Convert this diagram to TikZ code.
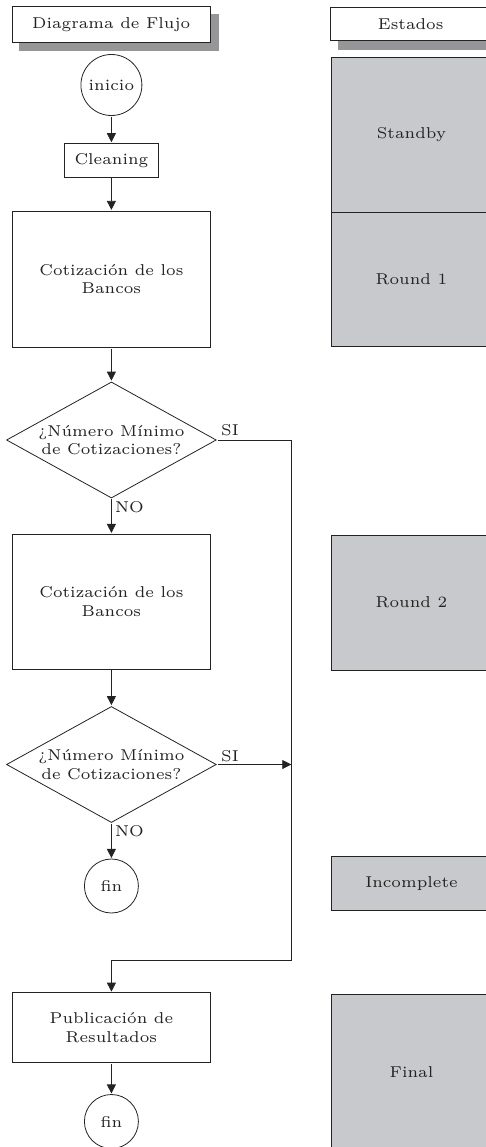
\documentclass[tikz,border=0pt]{standalone}
\usetikzlibrary{shapes.geometric,arrows.meta,backgrounds}
\definecolor{stategray}{RGB}{200,201,204}
\definecolor{shadowgray}{RGB}{150,150,152}
\definecolor{linec}{RGB}{35,35,35}
\newcommand{\kscale}{2.62}
\begin{document}
\begin{tikzpicture}[x=1pt,y=-1pt,
  lbl/.style={font=\fontsize{6}{7.05}\selectfont, scale=\kscale, inner sep=0pt, align=center, text=linec},
  sz/.style 2 args={minimum width={#1pt/\kscale}, minimum height={#2pt/\kscale}},
  box/.style={lbl, rectangle, draw=linec, line width=0.8pt, fill=white},
  st/.style={lbl, rectangle, draw=linec, line width=0.8pt, fill=stategray},
  term/.style={lbl, circle, draw=linec, line width=0.8pt, fill=white},
  dec/.style={lbl, diamond, aspect=1.8036, draw=linec, line width=0.8pt, fill=white},
  conn/.style={draw=linec, line width=0.8pt},
  arr/.style={conn, -{Triangle[length=9pt,width=9pt]}}]
\useasboundingbox (0,0) rectangle (486,1147);
% headers
\node[box, sz={198.4}{35.6}] (h1) at (111.2,24.5) {Diagrama de Flujo};
\node[box, sz={160}{33.4}] (h2) at (410.7,24) {Estados};
\begin{scope}[on background layer]
\fill[shadowgray] ([shift={(8,8)}]h1.north west) rectangle ([shift={(8,8)}]h1.south east);
\fill[shadowgray] ([shift={(8,8)}]h2.north west) rectangle ([shift={(8,8)}]h2.south east);
\end{scope}
% states
\node[st, sz={161}{154.6}] (standby) at (411.5,135) {Standby};
\node[st, sz={161}{134.4}] (r1) at (411.5,279.5) {Round 1};
\node[st, sz={161}{135}] (r2) at (411.5,602.5) {Round 2};
\node[st, sz={161}{53.3}] (inc) at (411.5,883.3) {Incomplete};
\node[st, sz={161}{156}] (final) at (411.5,1072) {Final};
% flow
\node[term, sz={61}{61}] (inicio) at (111.4,85) {inicio};
\node[box, sz={94.7}{34}] (clean) at (111.4,160.3) {Cleaning};
\node[box, sz={198.4}{136.7}] (cot1) at (111.4,279.3) {Cotización de los\\Bancos};
\node[dec, sz={210.3}{116.6}] (d1) at (111.4,440) {¿Número Mínimo\\de Cotizaciones?};
\node[box, sz={198.4}{135}] (cot2) at (111.4,601.5) {Cotización de los\\Bancos};
\node[dec, sz={210.3}{116.6}] (d2) at (111.4,764.5) {¿Número Mínimo\\de Cotizaciones?};
\node[term, sz={54}{54}] (fin1) at (111.4,886) {fin};
\node[box, sz={198.4}{70}] (pub) at (111.4,1027.7) {Publicación de\\Resultados};
\node[term, sz={54}{54}] (fin2) at (111.4,1121.5) {fin};
\coordinate (railbot) at (291.3,960.7);
% labels
\node[lbl] (si1) at (230,430) {SI};
\node[lbl] (si2) at (230,756) {SI};
\node[lbl] (no1) at (129.5,507) {NO};
\node[lbl] (no2) at (129.5,831.5) {NO};
% connectors
\draw[arr] (inicio.south) -- (clean.north);
\draw[arr] (clean.south) -- (cot1.north);
\draw[arr] (cot1.south) -- (d1.north);
\draw[arr] (d1.south) -- (cot2.north);
\draw[arr] (cot2.south) -- (d2.north);
\draw[arr] (d2.south) -- (fin1.north);
\draw[arr] (d2.east) -- (d2.east -| railbot);
\draw[arr] (d1.east) -- (d1.east -| railbot) -- (railbot) -| (pub.north);
\draw[arr] (pub.south) -- (fin2.north);
\end{tikzpicture}
\end{document}
